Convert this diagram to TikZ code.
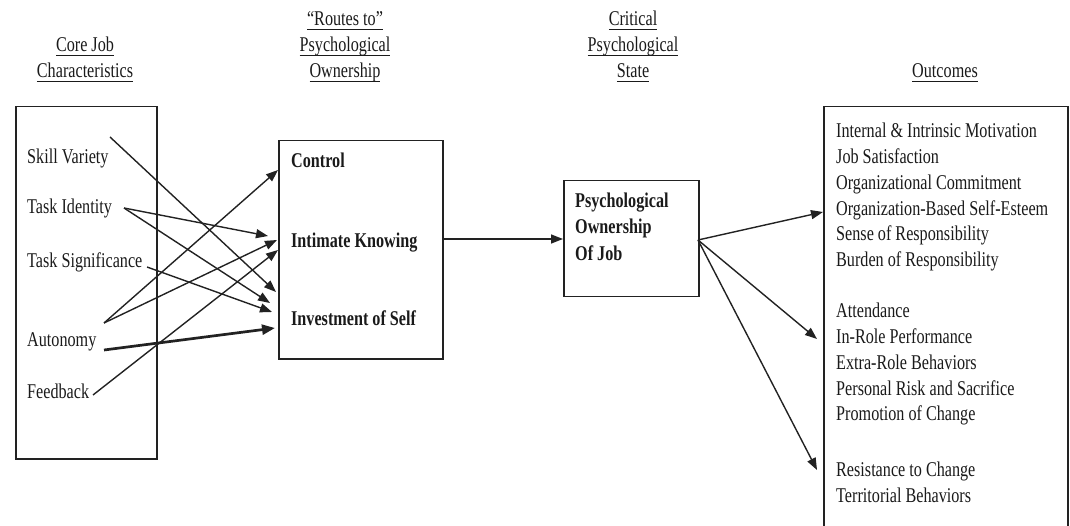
\documentclass[tikz,border=0pt]{standalone}
\usepackage{fontspec}
\setmainfont{Liberation Serif}[FakeStretch=0.77]
\usetikzlibrary{arrows.meta}
% underline a word with a rule a little below its baseline
\newcommand{\ulin}[1]{\setbox0\hbox{#1}\rlap{\rule[-4.5pt]{\wd0}{1.6pt}}\box0}
\definecolor{ink}{HTML}{1A1A1A}
\definecolor{edge}{HTML}{222222}
\tikzset{
  txt/.style={inner sep=0pt, text=ink, font=\fontsize{21}{26}\selectfont},
  hdr/.style={txt, anchor=base},
  item/.style={txt, anchor=base west},
  bitem/.style={txt, anchor=base west, font=\fontsize{21}{26}\selectfont\bfseries},
  frame/.style={draw=edge, line width=1.5pt, inner sep=0pt},
  link/.style={draw=edge, line width=1.4pt, -{Triangle[length=12pt,width=9pt]}},
  boldlink/.style={link, line width=2.7pt, -{Triangle[length=13pt,width=10pt]}}
}
\begin{document}
\begin{tikzpicture}[x=1pt,y=-1pt]
\useasboundingbox (0,0) rectangle (1070,526);

% column headings
\node[hdr] (h1a) at (85,52) {\ulin{Core Job}};
\node[hdr] (h1b) at (85,78) {\ulin{Characteristics}};
\node[hdr] (h2a) at (345,26) {\ulin{``Routes to''}};
\node[hdr] (h2b) at (345,52) {\ulin{Psychological}};
\node[hdr] (h2c) at (345,78) {\ulin{Ownership}};
\node[hdr] (h3a) at (633,26) {\ulin{Critical}};
\node[hdr] (h3b) at (633,52) {\ulin{Psychological}};
\node[hdr] (h3c) at (633,78) {\ulin{State}};
\node[hdr] (h4a) at (945,78) {\ulin{Outcomes}};

% boxes
\node[frame, minimum width=141pt, minimum height=352pt, anchor=north west] (core) at (15,106) {};
\node[frame, minimum width=164pt, minimum height=218pt, anchor=north west] (routes) at (278,140) {};
\node[frame, minimum width=135pt, minimum height=116pt, anchor=north west] (pos) at (563,180) {};
\begin{scope}
  \clip (0,0) rectangle (1070,526);
  \node[frame, minimum width=244pt, minimum height=440pt, anchor=north west] (outc) at (823,106) {};
\end{scope}

% core job characteristics
\node[item] (sv) at (27,164) {Skill Variety};
\node[item] (ti) at (27,214) {Task Identity};
\node[item] (ts) at (27,268) {Task Significance};
\node[item] (au) at (27,346) {Autonomy};
\node[item] (fb) at (27,398) {Feedback};

% routes to psychological ownership
\node[bitem] (ctl) at (291,168) {Control};
\node[bitem] (ik) at (291,248) {Intimate Knowing};
\node[bitem] (ios) at (291,326) {Investment of Self};

% psychological ownership of job
\node[bitem] (p1) at (575,208) {Psychological};
\node[bitem] (p2) at (575,234) {Ownership};
\node[bitem] (p3) at (575,261) {Of Job};

% outcomes
\node[item] (o1) at (836,138) {Internal \& Intrinsic Motivation};
\node[item] (o2) at (836,163.7) {Job Satisfaction};
\node[item] (o3) at (836,189.4) {Organizational Commitment};
\node[item] (o4) at (836,215.1) {Organization-Based Self-Esteem};
\node[item] (o5) at (836,240.8) {Sense of Responsibility};
\node[item] (o6) at (836,266.5) {Burden of Responsibility};
\node[item] (o7) at (836,318) {Attendance};
\node[item] (o8) at (836,343.7) {In-Role Performance};
\node[item] (o9) at (836,369.4) {Extra-Role Behaviors};
\node[item] (o10) at (836,395.1) {Personal Risk and Sacrifice};
\node[item] (o11) at (836,420.8) {Promotion of Change};
\node[item] (o12) at (836,476) {Resistance to Change};
\node[item] (o13) at (836,502) {Territorial Behaviors};

% connector end points
\coordinate (svS) at (110,137);
\coordinate (tiS) at (124,208);
\coordinate (tsS) at (147,267);
\coordinate (auS) at (104,323);
\coordinate (auT) at (104,350);
\coordinate (fbS) at (93,395);
\coordinate (ctlIn) at (278,170);
\coordinate (ikIn1) at (268,236);
\coordinate (ikIn2) at (277,240);
\coordinate (ikIn3) at (278,250);
\coordinate (iosIn1) at (276,292);
\coordinate (iosIn2) at (270,303);
\coordinate (iosIn3) at (272,312);
\coordinate (iosIn4) at (275,328);
\coordinate (routesOut) at (442,239);
\coordinate (posIn) at (563,239);
\coordinate (posOut) at (698,240);
\coordinate (outIn1) at (823,212);
\coordinate (outIn2) at (817,339);
\coordinate (outIn3) at (817,470);

% core characteristics to routes
\draw[link] (svS) -- (iosIn1);
\draw[link] (tiS) -- (ikIn1);
\draw[link] (tiS) -- (iosIn2);
\draw[link] (tsS) -- (iosIn3);
\draw[link] (auS) -- (ctlIn);
\draw[link] (auS) -- (ikIn2);
\draw[boldlink] (auT) -- (iosIn4);
\draw[link] (fbS) -- (ikIn3);

% routes to state, state to outcomes
\draw[link] (routesOut) -- (posIn);
\draw[link] (posOut) -- (outIn1);
\draw[link] (posOut) -- (outIn2);
\draw[link] (posOut) -- (outIn3);
\end{tikzpicture}
\end{document}
